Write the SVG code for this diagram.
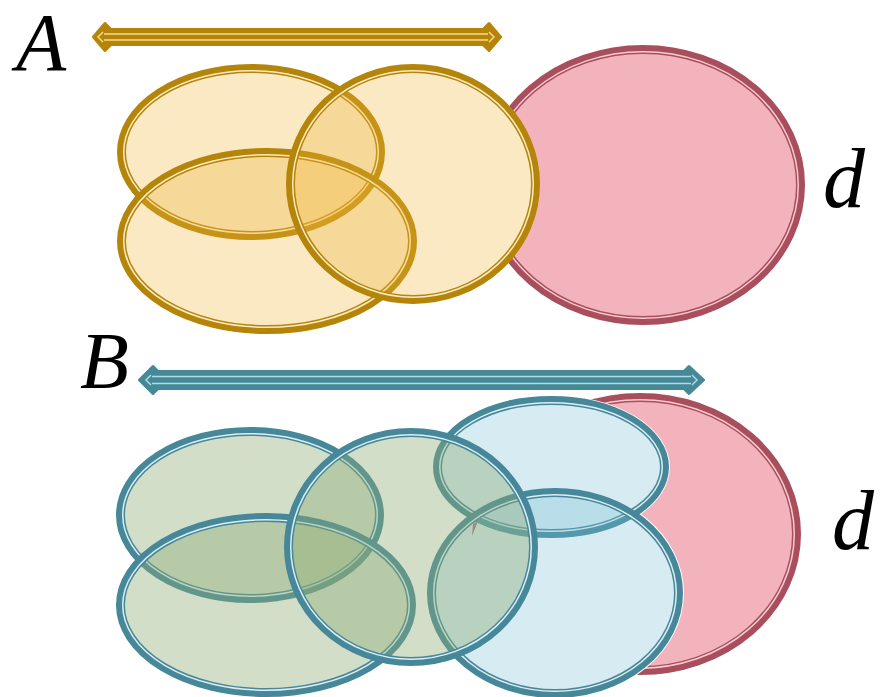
<svg xmlns="http://www.w3.org/2000/svg" width="883" height="697" viewBox="0 0 883 697">
<style>
.lbl{font-family:"Liberation Serif","Times New Roman",serif;font-style:italic;fill:#000}
.thk{fill:none;stroke-width:9}
.thin{fill:none;stroke-width:1.5}
.gold{stroke:#B5850A}
.goldL{stroke:#FBEBC5}
.yfill{fill:rgb(238,182,55);fill-opacity:0.3}
.pfill{fill:#F2B3BC}
.pink{stroke:#A84E5C}
.pinkL{stroke:#F7CCD2}
.blue{stroke:#46889A}
.blueL{stroke:#DCEEF2}
.gfill{fill:rgb(143,172,117);fill-opacity:0.4}
.bfill{fill:rgb(118,188,212);fill-opacity:0.3}
.white{fill:#fff}
</style>
<rect width="883" height="697" fill="#fff"/>

<!-- Top section -->
<g id="pinkTop">
  <ellipse cx="643" cy="185" rx="157.5" ry="135.5" class="pfill"/>
  <ellipse cx="643" cy="185" rx="157.5" ry="135.5" class="thk pink"/>
  <ellipse cx="643" cy="185" rx="155.25" ry="133.25" class="thin pinkL"/>
</g>
<ellipse cx="413" cy="184" rx="124" ry="117" class="white"/>
<g id="A1">
  <ellipse cx="251" cy="152" rx="129.5" ry="83.5" class="yfill"/>
  <ellipse cx="251" cy="152" rx="129.5" ry="83.5" class="thk gold"/>
  <ellipse cx="251" cy="152" rx="127.25" ry="81.25" class="thin goldL"/>
</g>
<g id="A2">
  <ellipse cx="267" cy="241" rx="145.5" ry="88.5" class="yfill"/>
  <ellipse cx="267" cy="241" rx="145.5" ry="88.5" class="thk gold"/>
  <ellipse cx="267" cy="241" rx="143.25" ry="86.25" class="thin goldL"/>
</g>
<g id="A3">
  <ellipse cx="413" cy="184" rx="122.5" ry="115.5" class="yfill"/>
  <ellipse cx="413" cy="184" rx="122.5" ry="115.5" class="thk gold"/>
  <ellipse cx="413" cy="184" rx="120.25" ry="113.25" class="thin goldL"/>
</g>

<!-- Bottom section -->
<g id="pinkBottom">
  <ellipse cx="640" cy="534" rx="156.5" ry="136.5" class="pfill"/>
  <ellipse cx="640" cy="534" rx="156.5" ry="136.5" class="thk pink"/>
  <ellipse cx="640" cy="534" rx="154.25" ry="134.25" class="thin pinkL"/>
</g>
<ellipse cx="551" cy="467" rx="119" ry="72" class="white"/>
<ellipse cx="555" cy="593" rx="129" ry="106" class="white"/>
<g id="B4">
  <ellipse cx="551" cy="467" rx="113.5" ry="66.5" class="bfill"/>
  <ellipse cx="551" cy="467" rx="113.5" ry="66.5" class="thk blue"/>
  <ellipse cx="551" cy="467" rx="111.25" ry="64.25" class="thin blueL"/>
</g>
<g id="B5">
  <ellipse cx="555" cy="593" rx="123.5" ry="100.5" class="bfill"/>
  <ellipse cx="555" cy="593" rx="123.5" ry="100.5" class="thk blue"/>
  <ellipse cx="555" cy="593" rx="121.25" ry="98.25" class="thin blueL"/>
</g>
<g id="B1">
  <ellipse cx="250" cy="515" rx="129.5" ry="83.5" class="gfill"/>
  <ellipse cx="250" cy="515" rx="129.5" ry="83.5" class="thk blue"/>
  <ellipse cx="250" cy="515" rx="127.25" ry="81.25" class="thin blueL"/>
</g>
<g id="B2">
  <ellipse cx="266" cy="605" rx="145.5" ry="87.5" class="gfill"/>
  <ellipse cx="266" cy="605" rx="145.5" ry="87.5" class="thk blue"/>
  <ellipse cx="266" cy="605" rx="143.25" ry="85.25" class="thin blueL"/>
</g>
<g id="B3">
  <ellipse cx="411" cy="547" rx="122.5" ry="114.5" class="gfill"/>
  <ellipse cx="411" cy="547" rx="122.5" ry="114.5" class="thk blue"/>
  <ellipse cx="411" cy="547" rx="120.25" ry="112.25" class="thin blueL"/>
</g>
<polygon points="473,524 478,521 472,536" fill="#9A8A80"/>

<!-- Connectors -->
<g id="connectors">
  <path d="M93.5,37 L105,23.5 L111,29.5 L483,29.5 L489,23.5 L500.5,37 L489,50.5 L483,44.5 L111,44.5 L105,50.5 Z" fill="#B5850A" stroke="#B5850A" stroke-width="3" stroke-linejoin="round"/>
  <path d="M104,34 L488,34 M104,40 L488,40 M103,32 L98,37 L103,42 M489,32 L494,37 L489,42" fill="none" stroke="#F6D98A" stroke-width="1.5"/>
  <path d="M139.5,380 L153,366.5 L158,371.5 L684,371.5 L689,366.5 L703.5,380 L689,393.5 L684,388.5 L158,388.5 L153,393.5 Z" fill="#468896" stroke="#468896" stroke-width="3" stroke-linejoin="round"/>
  <path d="M152,376.5 L691,376.5 M152,383.5 L691,383.5 M151,375 L146,380 L151,385 M692,375 L697,380 L692,385" fill="none" stroke="#A9DCE6" stroke-width="1.5"/>
</g>

<!-- Labels -->
<g id="labels">
  <text x="16" y="70" font-size="82" class="lbl">A</text>
  <text x="823" y="207" font-size="84" class="lbl">d</text>
  <text x="80" y="388" font-size="80" class="lbl">B</text>
  <text x="832" y="549" font-size="84" class="lbl">d</text>
</g>
</svg>
